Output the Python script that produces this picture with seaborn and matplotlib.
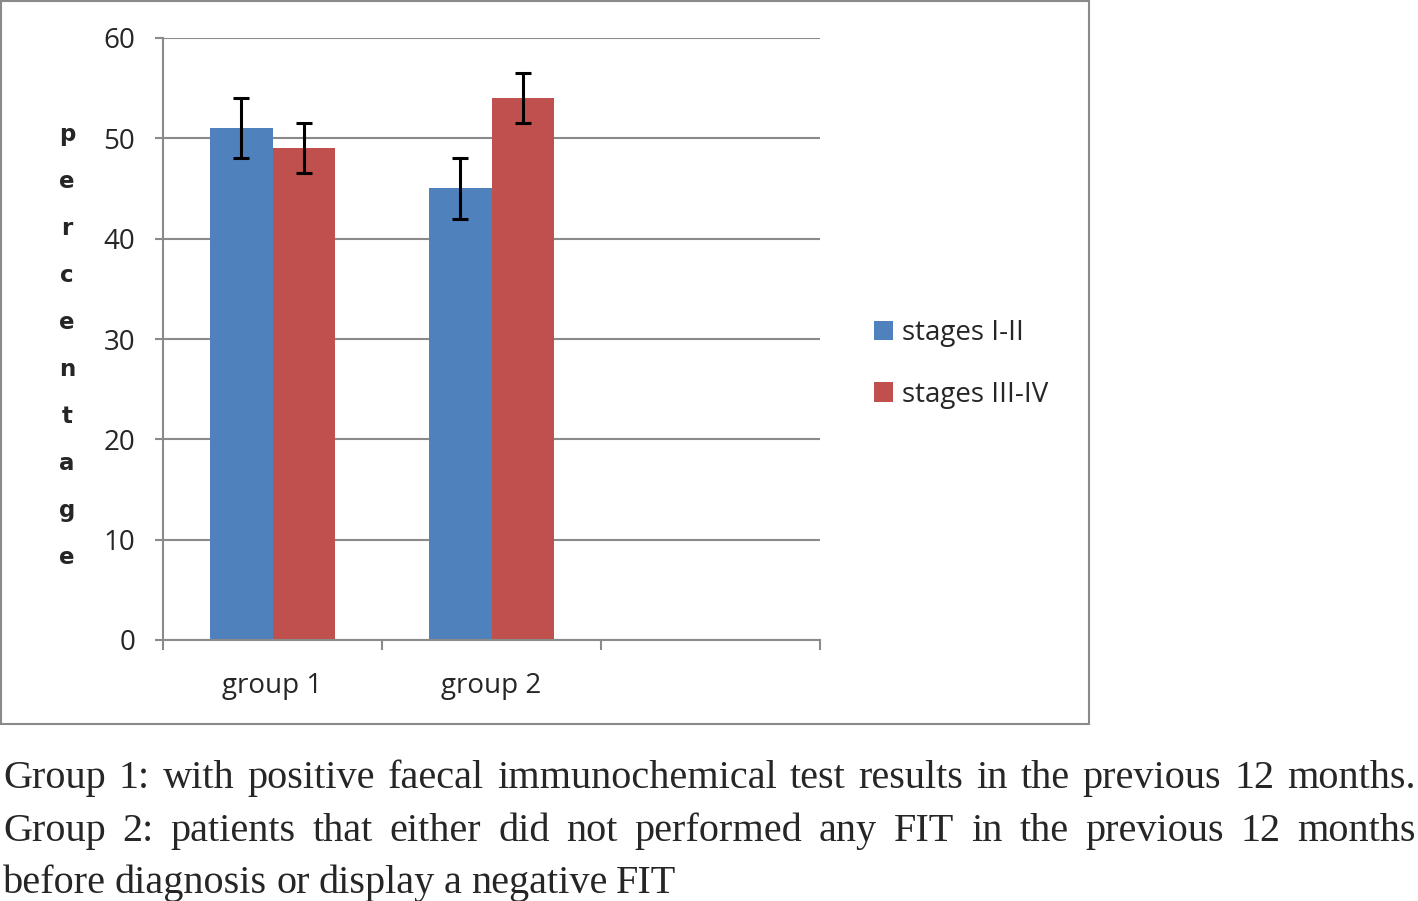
#%%
import pandas as pd
import seaborn as sns
import matplotlib.pyplot as plt
from matplotlib.patches import Rectangle

groups = ["group 1", "group 1", "group 2", "group 2"]
stages = ["stages I-II", "stages III-IV", "stages I-II", "stages III-IV"]
pct = [51, 49, 45, 54]
err = [3, 2.5, 3, 2.5]
group_order = ["group 1", "group 2", ""]
stage_order = ["stages I-II", "stages III-IV"]
yticks = [0, 10, 20, 30, 40, 50, 60]
caption = [
    "Group 1: with positive faecal immunochemical test results in the previous 12 months.",
    "Group 2:  patients that either did not performed any FIT in the previous 12 months",
    "before diagnosis or display a negative FIT",
]

df = pd.DataFrame({"group": groups, "stage": stages, "pct": pct, "err": err})

#%%
sns.set_theme(style="white")
plt.rcParams["font.family"] = ["Open Sans", "DejaVu Sans"]
grey = "#8a8a8a"
fs = 20

fig = plt.figure(figsize=(14.18, 9.01), dpi=100)
ax = fig.add_axes([163 / 1418, 1 - 640 / 901, 657 / 1418, 602 / 901])

sns.barplot(data=df, x="group", y="pct", hue="stage", order=group_order,
            hue_order=stage_order, palette=["#4F81BD", "#C0504D"],
            saturation=1, width=0.57, gap=0, errorbar=None, linewidth=0,
            ax=ax)

# error bars on top of the bars drawn by seaborn
for cont, st in zip(ax.containers, stage_order):
    sub = df[df.stage == st]
    xs = [b.get_x() + b.get_width() / 2 for b in cont]
    hs = [b.get_height() for b in cont]
    ax.errorbar(xs, hs, yerr=sub.err.values, fmt="none", ecolor="black",
                elinewidth=2.2, capsize=6, capthick=2.2, zorder=5)

ax.set_xlim(-0.5, 2.5)
ax.set_ylim(0, 60)
ax.set_yticks(yticks)
ax.set_yticklabels([str(v) for v in yticks], fontsize=fs)
ax.yaxis.grid(True, color=grey, lw=1.5)
ax.set_axisbelow(True)
ax.set_xticks([-0.5, 0.5, 1.5, 2.5])
ax.set_xticklabels([])
ax.set_xticks([0, 1, 2], minor=True)
ax.set_xticklabels(group_order, minor=True, fontsize=fs)
ax.tick_params(axis="x", which="major", direction="out", length=7, width=1.5,
               color=grey, bottom=True)
ax.tick_params(axis="x", which="minor", length=0, pad=23)
ax.tick_params(axis="y", direction="out", length=6, width=1.5, color=grey,
               left=True, pad=14)
for s in ["top", "right"]:
    ax.spines[s].set_visible(False)
for s in ["left", "bottom"]:
    ax.spines[s].set_color(grey)
    ax.spines[s].set_linewidth(1.5)
ax.set_xlabel("")
ax.set_ylabel("")

ax.legend(loc="center left", bbox_to_anchor=(849 / 1418, 1 - 364 / 901),
          bbox_transform=fig.transFigure, frameon=False, fontsize=fs,
          handlelength=0.7, handleheight=0.7, handletextpad=0.3,
          labelspacing=1.2)

# stacked y label
for i, ch in enumerate("percentage"):
    fig.text(67 / 1418, 1 - (141 + 47 * i) / 901, ch, ha="center",
             va="baseline", fontsize=16.5, fontweight="bold",
             family="DejaVu Sans")

# chart frame
fig.add_artist(Rectangle((1 / 1418, 1 - 724 / 901), 1088 / 1418, 723 / 901,
                         transform=fig.transFigure, fill=False,
                         edgecolor=grey, lw=1.5))

# justified caption
renderer = fig.canvas.get_renderer()
left, right = 3, 1416
baselines = [788, 841, 893]
for k, (line, yb) in enumerate(zip(caption, baselines)):
    words = line.split()
    texts = [fig.text(0, 1 - yb / 901, w, fontsize=29, va="baseline",
                      family="Liberation Serif") for w in words]
    widths = [t.get_window_extent(renderer).width for t in texts]
    if k < 2:
        gap = (right - left - sum(widths)) / (len(words) - 1)
    else:
        gap = 9
    x = left
    for t, w in zip(texts, widths):
        t.set_x(x / 1418)
        x += w + gap

plt.savefig("out.png", dpi=100)
